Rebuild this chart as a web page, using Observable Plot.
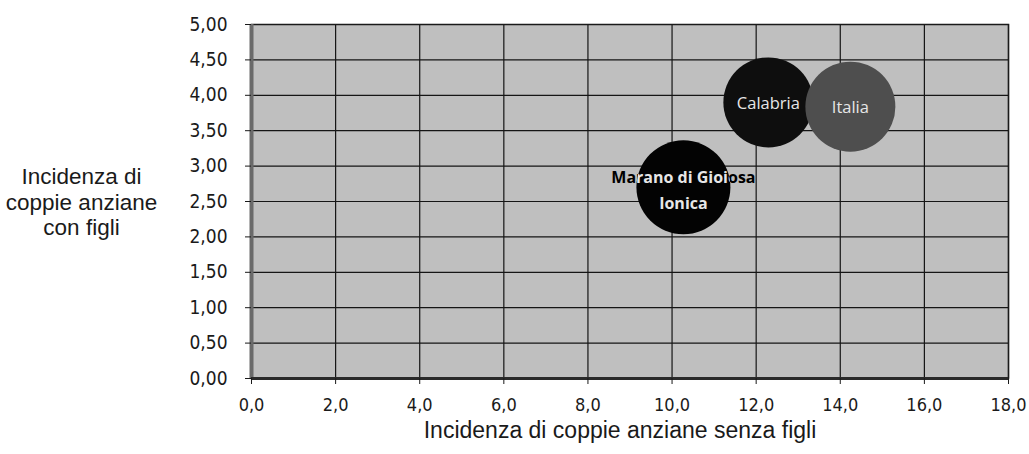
<!DOCTYPE html>
<html><head><meta charset="utf-8">
<script src="https://cdn.jsdelivr.net/npm/d3@7"></script>
<script src="https://cdn.jsdelivr.net/npm/@observablehq/plot@0.6"></script>
<style>
body{margin:0;background:#fff;}
#chart svg{display:block;}
</style>
</head><body><div id="chart"></div>
<script>
// ---- data ----
const regions = ["Marano di Gioiosa Ionica", "Calabria", "Italia"];
const labels = ["Marano di Gioiosa\nIonica", "Calabria", "Italia"];
const senzaFigli = [10.27, 12.29, 14.24];   // x: incidenza coppie anziane senza figli
const conFigli = [2.70, 3.90, 3.84];        // y: incidenza coppie anziane con figli
const bubbleSize = [1.09, 1.0, 1.0];        // relative bubble size
const bubbleColors = ["#030303", "#0e0e0e", "#4e4e4e"];
const xTicks = [0, 2, 4, 6, 8, 10, 12, 14, 16, 18];
const yTicks = [0, 0.5, 1, 1.5, 2, 2.5, 3, 3.5, 4, 4.5, 5];
const xTitle = "Incidenza di coppie anziane senza figli";
const yTitle = "Incidenza di\ncoppie anziane\ncon figli";

const data = regions.map((name, i) => ({
  name, label: labels[i], x: senzaFigli[i], y: conFigli[i], size: bubbleSize[i], color: bubbleColors[i]
}));
const comma = (d, n) => d.toFixed(n).replace(".", ",");
const marano = data.filter(d => d.name.startsWith("Marano"));
const others = data.filter(d => !d.name.startsWith("Marano"));
const tickFont = "'DejaVu Sans Condensed', 'DejaVu Sans', sans-serif";

const plot = Plot.plot({
  width: 1029, height: 454,
  marginLeft: 251, marginRight: 21, marginTop: 24, marginBottom: 76,
  style: {fontFamily: tickFont, background: "#fff"},
  x: {domain: [0, 18]},
  y: {domain: [0, 5]},
  r: {type: "sqrt", domain: [0, 1], range: [0, 45]},
  marks: [
    Plot.frame({fill: "#bfbfbf", stroke: "none"}),
    Plot.gridX(xTicks, {stroke: "#151515", strokeOpacity: 1, strokeWidth: 1.2}),
    Plot.gridY(yTicks, {stroke: "#151515", strokeOpacity: 1, strokeWidth: 1.2}),
    Plot.frame({stroke: "#1a1a1a", strokeWidth: 1.5}),
    Plot.ruleX([0], {stroke: "#6a6a6a", strokeWidth: 4}),
    Plot.ruleY([0], {stroke: "#2a2a2a", strokeWidth: 3}),
    Plot.axisX(xTicks, {tickFormat: d => comma(d, 1), tickSize: 6, tickPadding: 14, fontSize: 18, fontFamily: tickFont, color: "#1a1a1a", label: null}),
    Plot.axisY(yTicks, {tickFormat: d => comma(d, 2), tickSize: 6, tickPadding: 18, fontSize: 19, fontFamily: tickFont, color: "#1a1a1a", label: null}),
    Plot.text([xTitle], {frameAnchor: "bottom", dy: 59, dx: -10, fontSize: 23, fontFamily: "'Liberation Sans', Arial, sans-serif", fill: "#1a1a1a"}),
    Plot.text([yTitle], {frameAnchor: "left", dx: -170, textAnchor: "middle", lineHeight: 1.14, fontSize: 22.5, fontFamily: "'Liberation Sans', Arial, sans-serif", fill: "#1a1a1a"}),
    Plot.dot(data, {x: "x", y: "y", r: "size", fill: "color", stroke: "none"}),
    Plot.text(marano, {x: "x", y: "y", text: "label", dy: 0, lineHeight: 1.65, fontSize: 16, fontWeight: "bold", fontFamily: "'Open Sans', sans-serif", fill: "#000"}),
    Plot.text(marano, {x: "x", y: "y", text: "label", dy: 0, lineHeight: 1.65, fontSize: 16, fontWeight: "bold", fontFamily: "'Open Sans', sans-serif", fill: "#e7e7e7"}),
    Plot.text(others, {x: "x", y: "y", text: "label", dy: 1, fontSize: 16.5, fontFamily: "'Open Sans', sans-serif", fill: "#e6e6e6"})
  ]
});

// clip the light copy of the Marano label to the bubbles so it shows only on the dark discs
const sx = plot.scale("x"), sy = plot.scale("y"), sr = plot.scale("r");
const svg = d3.select(plot);
const defs = svg.insert("defs", ":first-child");
const clip = defs.append("clipPath").attr("id", "bubble-clip");
data.forEach(d => {
  clip.append("circle").attr("cx", sx.apply(d.x)).attr("cy", sy.apply(d.y)).attr("r", sr.apply(d.size));
});
svg.selectAll("g").filter(function() { return this.getAttribute("fill") === "#e7e7e7"; })
  .attr("clip-path", "url(#bubble-clip)");

document.getElementById("chart").appendChild(plot);
</script>
</body></html>
